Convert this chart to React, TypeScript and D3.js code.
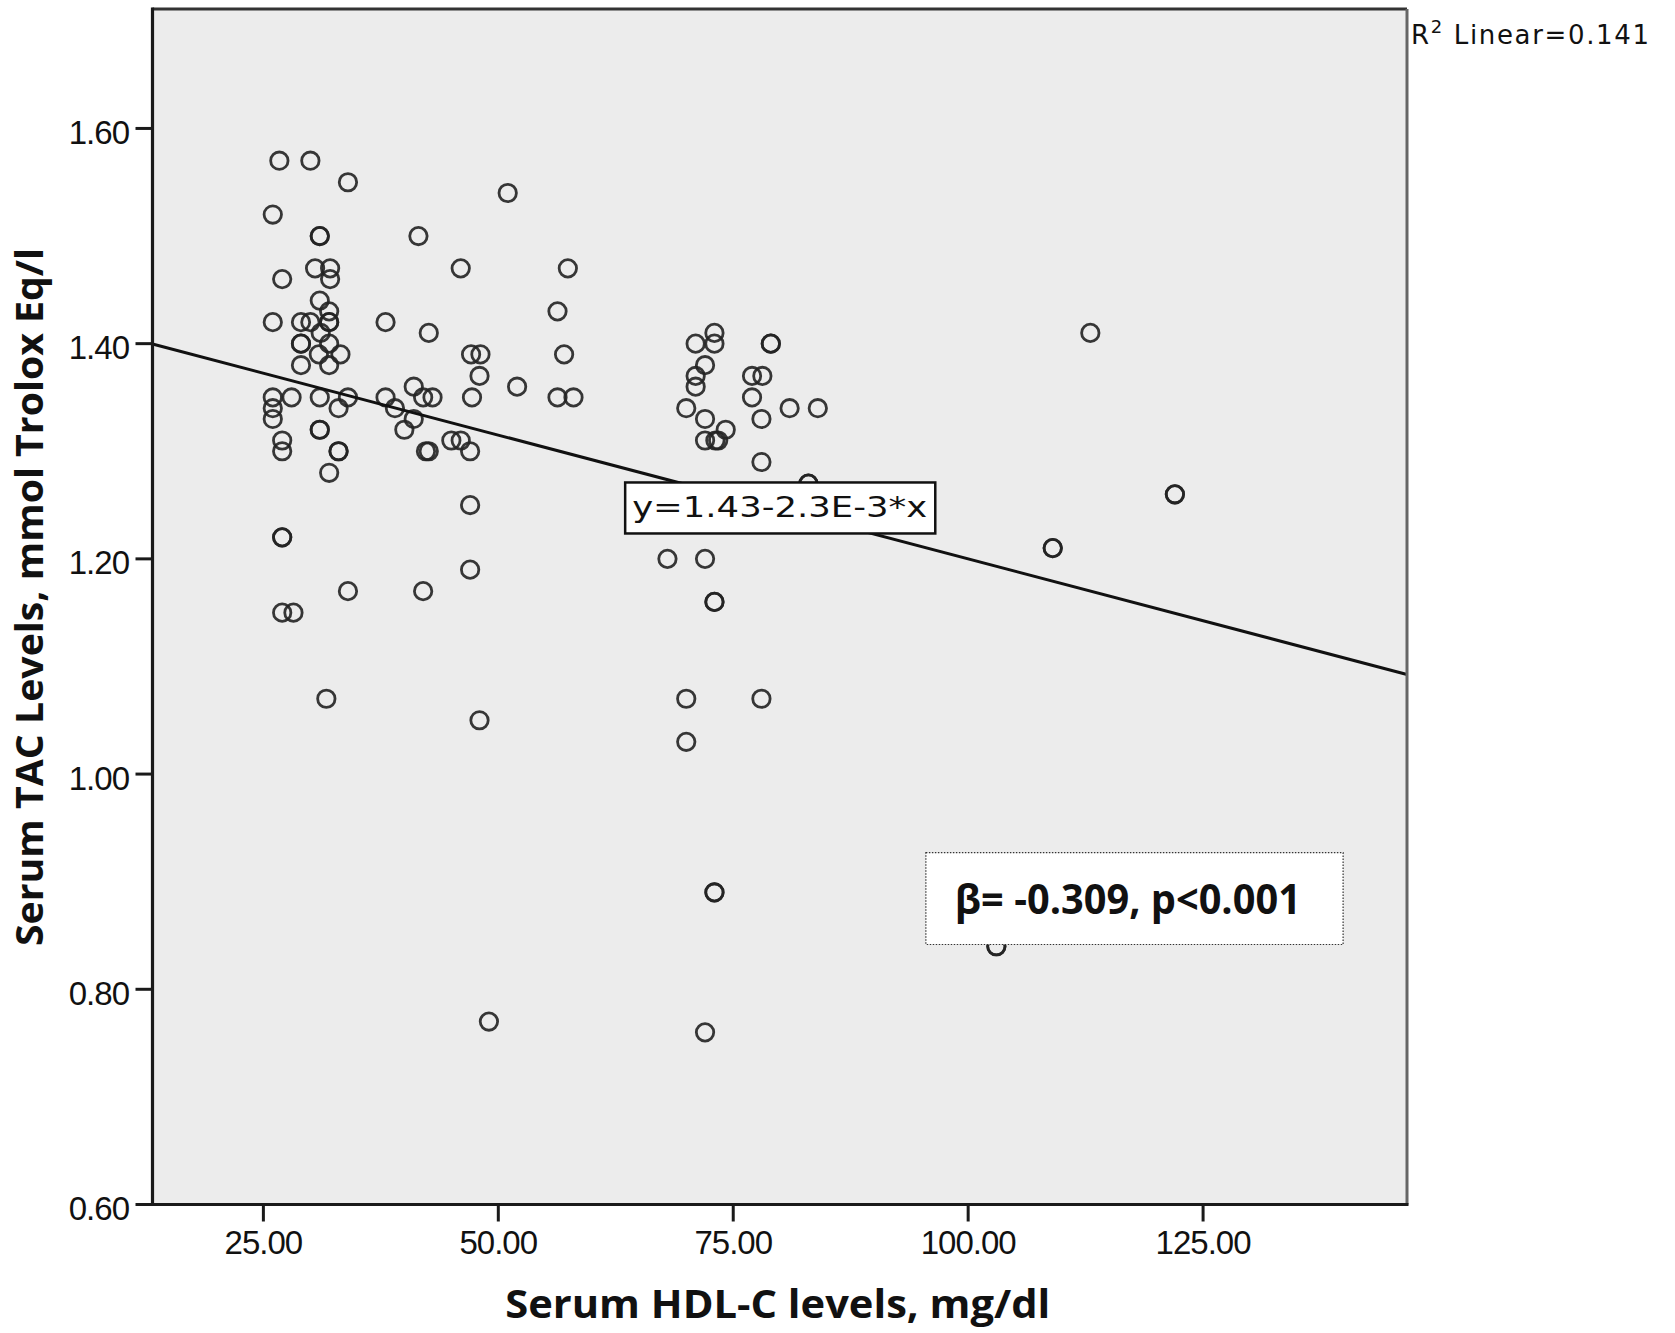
import * as d3 from "d3";

// HDL-C (mg/dl) and TAC (mmol Trolox Eq/l), one entry per subject
const hdl = [
  26.7, 30.0, 34.0, 51.0, 26.0, 31.0, 31.0, 41.5, 30.5, 32.1, 46.0, 57.4, 27.0, 32.1, 31.0, 32.0,
  56.3, 26.0, 29.0, 30.0, 32.0, 32.0, 38.0, 42.6, 31.1, 29.0, 29.0, 32.0, 30.9, 33.2, 47.1, 48.1,
  57.0, 29.0, 32.0, 48.0, 52.0, 41.0, 26.0, 28.0, 31.0, 34.0, 38.0, 42.0, 43.0, 47.2, 56.3, 58.0,
  26.0, 33.0, 39.0, 26.0, 41.0, 31.0, 31.0, 40.0, 27.0, 45.0, 46.0, 27.0, 33.0, 33.0, 42.3, 42.6,
  47.0, 32.0, 47.0, 27.0, 27.0, 47.0, 34.0, 42.0, 27.0, 28.2, 31.7, 48.0, 49.0,
  73.0, 71.0, 73.0, 79.0, 79.0, 72.0, 71.0, 71.0, 77.0, 78.1, 77.0, 70.0, 81.0, 84.0, 72.0, 78.0,
  74.2, 72.0, 73.1, 73.4, 78.0, 83.0, 83.0, 68.0, 72.0, 73.0, 73.0, 70.0, 78.0, 70.0, 73.0, 73.0,
  72.0,
  113.0, 122.0, 122.0, 109.0, 109.0, 103.0, 103.0,
];
const tac = [
  1.57, 1.57, 1.55, 1.54, 1.52, 1.5, 1.5, 1.5, 1.47, 1.47, 1.47, 1.47, 1.46, 1.46, 1.44, 1.43,
  1.43, 1.42, 1.42, 1.42, 1.42, 1.42, 1.42, 1.41, 1.41, 1.4, 1.4, 1.4, 1.39, 1.39, 1.39, 1.39,
  1.39, 1.38, 1.38, 1.37, 1.36, 1.36, 1.35, 1.35, 1.35, 1.35, 1.35, 1.35, 1.35, 1.35, 1.35, 1.35,
  1.34, 1.34, 1.34, 1.33, 1.33, 1.32, 1.32, 1.32, 1.31, 1.31, 1.31, 1.3, 1.3, 1.3, 1.3, 1.3,
  1.3, 1.28, 1.25, 1.22, 1.22, 1.19, 1.17, 1.17, 1.15, 1.15, 1.07, 1.05, 0.77,
  1.41, 1.4, 1.4, 1.4, 1.4, 1.38, 1.37, 1.36, 1.37, 1.37, 1.35, 1.34, 1.34, 1.34, 1.33, 1.33,
  1.32, 1.31, 1.31, 1.31, 1.29, 1.27, 1.27, 1.2, 1.2, 1.16, 1.16, 1.07, 1.07, 1.03, 0.89, 0.89,
  0.76,
  1.41, 1.26, 1.26, 1.21, 1.21, 0.84, 0.84,
];

const xTicks = [25, 50, 75, 100, 125];
const yTicks = [0.6, 0.8, 1.0, 1.2, 1.4, 1.6];

const fitIntercept = 1.43;
const fitSlope = -0.0023;
const rSquared = 0.141;
const betaText = "β= -0.309, p<0.001";

const W = 1675;
const H = 1333;
const m = { t: 9, r: 268, b: 128.5, l: 152.5 };

export default function App() {
  const x = d3.scaleLinear().domain([13.2, 146.7]).range([m.l, W - m.r]);
  const y = d3.scaleLinear().domain([0.6, 1.711]).range([H - m.b, m.t]);
  const [x0, x1] = x.domain();
  const bottom = H - m.b;
  const right = W - m.r;

  const fit = (v: number) => fitIntercept + fitSlope * v;

  // annotation boxes, placed in data units
  const eq = { x0: 63.5, x1: 96.5, y0: 1.271, y1: 1.2236 };
  const beta = { x0: 95.5, x1: 139.9, y0: 0.927, y1: 0.8416 };

  const tickFont = "'Liberation Sans', Arial, sans-serif";
  const titleFont = "'Open Sans', 'DejaVu Sans', sans-serif";

  return (
    <div style={{ position: "absolute", left: 0, top: 0 }}>
      <svg width={W} height={H} viewBox={`0 0 ${W} ${H}`} style={{ display: "block", background: "#fff" }}>
        <rect x={m.l} y={m.t} width={right - m.l} height={bottom - m.t} fill="#ececec" />

        {hdl.map((v, i) => (
          <circle
            key={i}
            cx={x(v)}
            cy={y(tac[i])}
            r={8.7}
            fill="none"
            stroke="#222"
            strokeWidth={2.8}
            strokeOpacity={0.9}
          />
        ))}

        <line x1={x(x0)} y1={y(fit(x0))} x2={x(x1)} y2={y(fit(x1))} stroke="#111" strokeWidth={3} />

        {/* fit equation label */}
        <rect
          x={x(eq.x0)}
          y={y(eq.y0)}
          width={x(eq.x1) - x(eq.x0)}
          height={y(eq.y1) - y(eq.y0)}
          fill="#fff"
          stroke="#111"
          strokeWidth={2.5}
        />
        <text
          x={x(eq.x0) + 7}
          y={y(eq.y1) - 16}
          fontFamily="'DejaVu Sans', sans-serif"
          fontSize={28}
          textLength={295}
          lengthAdjust="spacingAndGlyphs"
          fill="#111"
        >
          {`y=${fitIntercept}-2.3E-3*x`}
        </text>

        {/* beta annotation */}
        <rect
          x={x(beta.x0)}
          y={y(beta.y0)}
          width={x(beta.x1) - x(beta.x0)}
          height={y(beta.y1) - y(beta.y0)}
          fill="#fff"
          stroke="#333"
          strokeWidth={1.2}
          strokeDasharray="1.5 1.5"
        />
        <text
          x={x(beta.x0) + 29}
          y={y(beta.y1) - 30.5}
          fontFamily={titleFont}
          fontWeight="bold"
          fontSize={41}
          textLength={346}
          lengthAdjust="spacingAndGlyphs"
          fill="#111"
        >
          {betaText}
        </text>

        {/* frame */}
        <line x1={m.l} y1={m.t} x2={right} y2={m.t} stroke="#333" strokeWidth={3} />
        <line x1={right} y1={m.t} x2={right} y2={bottom} stroke="#666" strokeWidth={3} />
        <line x1={m.l} y1={m.t - 1.5} x2={m.l} y2={bottom + 1.5} stroke="#1a1a1a" strokeWidth={3.2} />
        <line x1={m.l - 1.5} y1={bottom} x2={right + 1.5} y2={bottom} stroke="#1a1a1a" strokeWidth={3.2} />

        {yTicks.map((t) => (
          <g key={t}>
            <line x1={m.l - 17} x2={m.l} y1={y(t)} y2={y(t)} stroke="#1a1a1a" strokeWidth={3} />
            <text
              x={m.l - 23.5}
              y={y(t) + 15.5}
              textAnchor="end"
              fontFamily={tickFont}
              fontSize={33}
              letterSpacing={-1}
              fill="#111"
            >
              {t.toFixed(2)}
            </text>
          </g>
        ))}

        {xTicks.map((t) => (
          <g key={t}>
            <line x1={x(t)} x2={x(t)} y1={bottom} y2={bottom + 17} stroke="#1a1a1a" strokeWidth={3} />
            <text
              x={x(t)}
              y={bottom + 49.5}
              textAnchor="middle"
              fontFamily={tickFont}
              fontSize={33}
              letterSpacing={-1}
              fill="#111"
            >
              {t.toFixed(2)}
            </text>
          </g>
        ))}

        <text
          x={(m.l + right) / 2 - 2}
          y={1318}
          textAnchor="middle"
          fontFamily={titleFont}
          fontWeight="bold"
          fontSize={39}
          textLength={545}
          lengthAdjust="spacingAndGlyphs"
          fill="#111"
        >
          Serum HDL-C levels, mg/dl
        </text>

        <text
          transform={`translate(43,597) rotate(-90)`}
          textAnchor="middle"
          fontFamily={titleFont}
          fontWeight="bold"
          fontSize={38}
          textLength={698}
          lengthAdjust="spacingAndGlyphs"
          fill="#111"
        >
          Serum TAC Levels, mmol Trolox Eq/l
        </text>

        <text
          x={right + 4}
          y={44}
          fontFamily="'DejaVu Sans', sans-serif"
          fontSize={26}
          textLength={238}
          lengthAdjust="spacing"
          fill="#111"
        >
          R
          <tspan fontSize={18} dy={-11}>
            2
          </tspan>
          <tspan dy={11}>{` Linear=${rSquared}`}</tspan>
        </text>
      </svg>
    </div>
  );
}
